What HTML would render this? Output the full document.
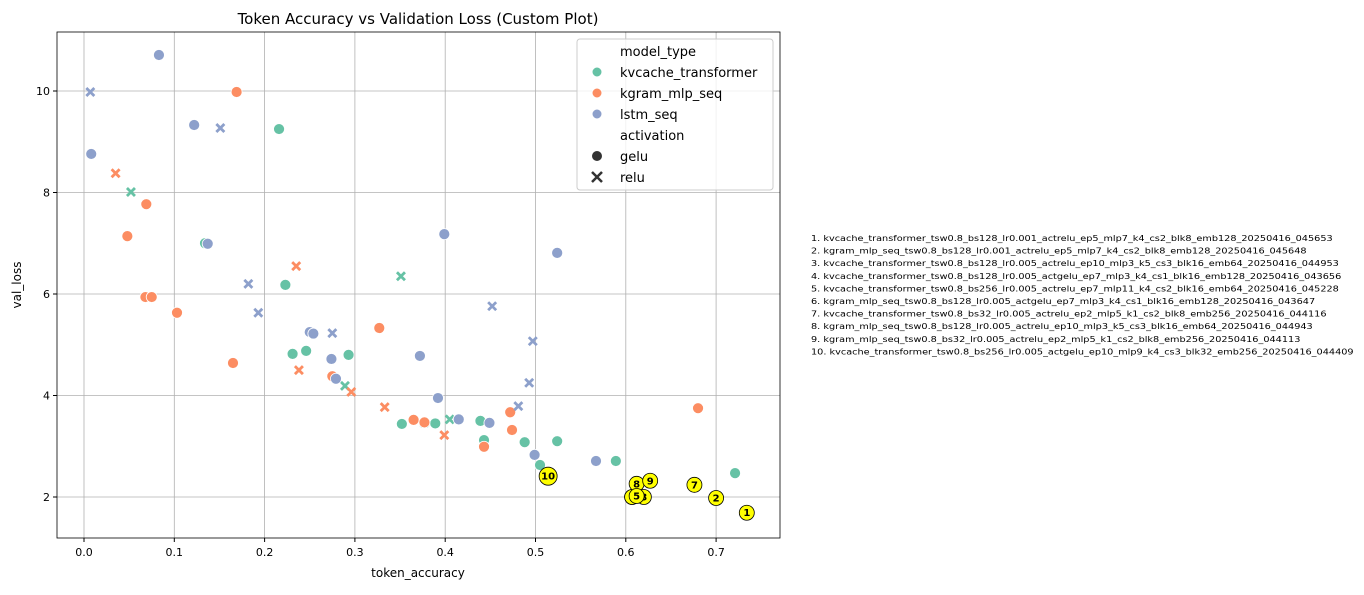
<!DOCTYPE html>
<html><head><meta charset="utf-8"><style>
body{margin:0;background:#fff;font-family:"Liberation Sans","DejaVu Sans",sans-serif}
svg text{font-family:"DejaVu Sans","Liberation Sans",sans-serif}
</style></head><body>
<svg id="chart" width="1364" height="590" xmlns="http://www.w3.org/2000/svg">
<rect width="1364" height="590" fill="#fff"/>
<text x="418" y="24" font-size="15" text-anchor="middle">Token Accuracy vs Validation Loss (Custom Plot)</text>
<g id="grid"></g><g id="marks"></g><g id="ann"></g>
<rect x="57" y="32" width="723" height="506" fill="none" stroke="#000" stroke-width="0.8"/>
<text x="418" y="577" font-size="12" text-anchor="middle">token_accuracy</text>
<text x="21" y="285" font-size="12" text-anchor="middle" transform="rotate(-90 21 285)">val_loss</text>
<g>
<rect x="577" y="39" width="196" height="151" fill="#fff" fill-opacity="0.8" stroke="#ccc" rx="3"/>
<text x="620" y="56" font-size="13">model_type</text>
<circle cx="597" cy="72" r="5" fill="#66c2a5" stroke="#fff"/><text x="620" y="77" font-size="13">kvcache_transformer</text>
<circle cx="597" cy="93" r="5" fill="#fc8d62" stroke="#fff"/><text x="620" y="98" font-size="13">kgram_mlp_seq</text>
<circle cx="597" cy="114" r="5" fill="#8da0cb" stroke="#fff"/><text x="620" y="119" font-size="13">lstm_seq</text>
<text x="620" y="140" font-size="13">activation</text>
<circle cx="597" cy="156" r="5" fill="#333"/><text x="620" y="161" font-size="13">gelu</text>
<path d="M592,172 L602,182 M602,172 L592,182" stroke="#333" stroke-width="2.5"/><text x="620" y="182" font-size="13">relu</text>
</g>
<g id="list"></g>
</svg>
<script>
const xTicks=[0,0.1,0.2,0.3,0.4,0.5,0.6,0.7];
const xTickLabels=["0.0","0.1","0.2","0.3","0.4","0.5","0.6","0.7"];
const yTicks=[2,4,6,8,10];
const yTickLabels=["2","4","6","8","10"];
const models=["kvcache_transformer","kgram_mlp_seq","lstm_seq"];
const ptModel=[0,0,0,0,0,0,0,0,0,0,0,0,0,0,0, 0,0,0,0,0,
 1,1,1,1,1,1,1,1,1,1,1,1,1,1,1, 1,1,1,1,1,1,
 2,2,2,2,2,2,2,2,2,2,2,2,2,2,2,2, 2,2,2,2,2,2,2,2,2];
const ptAct=[0,0,0,0,0,0,0,0,0,0,0,0,0,0,0, 1,1,1,1,1,
 0,0,0,0,0,0,0,0,0,0,0,0,0,0,0, 1,1,1,1,1,1,
 0,0,0,0,0,0,0,0,0,0,0,0,0,0,0,0, 1,1,1,1,1,1,1,1,1];
const ptX=[0.216,0.134,0.223,0.231,0.246,0.293,0.352,0.389,0.439,0.443,0.488,0.524,0.505,0.589,0.721, 0.052,0.377,0.405,0.289,0.351,
 0.169,0.069,0.048,0.068,0.075,0.103,0.165,0.327,0.275,0.365,0.443,0.472,0.474,0.680,0.377, 0.035,0.235,0.238,0.296,0.333,0.399,
 0.083,0.008,0.122,0.137,0.399,0.524,0.250,0.254,0.274,0.279,0.372,0.392,0.415,0.449,0.499,0.567, 0.007,0.151,0.182,0.193,0.275,0.452,0.497,0.493,0.481];
const ptY=[9.25,7.00,6.18,4.82,4.88,4.80,3.44,3.45,3.50,3.12,3.08,3.10,2.63,2.71,2.47, 8.01,3.46,3.53,4.19,6.35,
 9.98,7.77,7.14,5.94,5.94,5.63,4.64,5.33,4.38,3.52,2.99,3.67,3.32,3.75,3.47, 8.38,6.55,4.50,4.07,3.77,3.22,
 10.71,8.76,9.33,6.99,7.18,6.81,5.25,5.22,4.72,4.33,4.78,3.95,3.53,3.46,2.83,2.71, 9.98,9.27,6.20,5.63,5.23,5.76,5.07,4.25,3.79];
const topX=[0.734,0.700,0.620,0.607,0.612,0.607,0.676,0.612,0.627,0.514];
const topY=[1.69,1.98,2.00,2.00,2.02,2.00,2.24,2.26,2.32,2.41];
const topNames=["kvcache_transformer_tsw0.8_bs128_lr0.001_actrelu_ep5_mlp7_k4_cs2_blk8_emb128_20250416_045653","kgram_mlp_seq_tsw0.8_bs128_lr0.001_actrelu_ep5_mlp7_k4_cs2_blk8_emb128_20250416_045648","kvcache_transformer_tsw0.8_bs128_lr0.005_actrelu_ep10_mlp3_k5_cs3_blk16_emb64_20250416_044953","kvcache_transformer_tsw0.8_bs128_lr0.005_actgelu_ep7_mlp3_k4_cs1_blk16_emb128_20250416_043656","kvcache_transformer_tsw0.8_bs256_lr0.005_actrelu_ep7_mlp11_k4_cs2_blk16_emb64_20250416_045228","kgram_mlp_seq_tsw0.8_bs128_lr0.005_actgelu_ep7_mlp3_k4_cs1_blk16_emb128_20250416_043647","kvcache_transformer_tsw0.8_bs32_lr0.005_actrelu_ep2_mlp5_k1_cs2_blk8_emb256_20250416_044116","kgram_mlp_seq_tsw0.8_bs128_lr0.005_actrelu_ep10_mlp3_k5_cs3_blk16_emb64_20250416_044943","kgram_mlp_seq_tsw0.8_bs32_lr0.005_actrelu_ep2_mlp5_k1_cs2_blk8_emb256_20250416_044113","kvcache_transformer_tsw0.8_bs256_lr0.005_actgelu_ep10_mlp9_k4_cs3_blk32_emb256_20250416_044409"];
const colors=["#66c2a5","#fc8d62","#8da0cb"];
const NS="http://www.w3.org/2000/svg";
const sx=v=>84+v*903, sy=v=>91+(10-v)*50.75;
function mk(t,a,p){const e=document.createElementNS(NS,t);for(const k in a)e.setAttribute(k,a[k]);p.appendChild(e);return e;}
const grid=document.getElementById('grid'),marks=document.getElementById('marks'),ann=document.getElementById('ann'),list=document.getElementById('list');
xTicks.forEach((t,i)=>{const x=sx(t);
 const l=mk('line',{x1:x,x2:x,y1:32,y2:538,stroke:'#b0b0b0','stroke-width':0.8},grid);
 
 
 mk('line',{x1:x,x2:x,y1:538,y2:542,stroke:'#000'},grid);
 const tx=mk('text',{x:x,y:556,'font-size':11,'text-anchor':'middle'},grid);tx.textContent=xTickLabels[i];
 
 });
yTicks.forEach((t,i)=>{const y=sy(t);
 const l=mk('line',{x1:57,x2:780,y1:y,y2:y,stroke:'#b0b0b0','stroke-width':0.8},grid);
 
 
 mk('line',{x1:53,x2:57,y1:y,y2:y,stroke:'#000'},grid);
 const tx=mk('text',{x:50,y:y+4,'font-size':11,'text-anchor':'end'},grid);tx.textContent=yTickLabels[i];
 
 });
ptX.forEach((v,i)=>{const x=sx(v),y=sy(ptY[i]),c=colors[ptModel[i]];let e;
 if(ptAct[i]===0){e=mk('circle',{cx:x,cy:y,r:5.5,fill:c,stroke:'#fff','stroke-width':0.8},marks);}
 else{e=mk('path',{d:`M${x-4},${y-4}L${x+4},${y+4}M${x+4},${y-4}L${x-4},${y+4}`,stroke:c,'stroke-width':2.8},marks);}
 
 });
const drawOrder=[0,1,3,5,2,6,7,8,9,4];
drawOrder.forEach(i=>{const x=sx(topX[i]),y=sy(topY[i]);
 const c=mk('circle',{cx:x,cy:y,r:i===9?9:7.5,fill:'#ffff00',stroke:'#000','stroke-width':0.8},ann);
 
 
 const t=mk('text',{x:x,y:y+3.5,'font-size':10,'font-weight':'bold','text-anchor':'middle'},ann);t.textContent=String(i+1);
 
 });
topNames.forEach((n,i)=>{const t=mk('text',{x:811,y:241+i*12.6,'font-size':8.3},list);t.textContent=(i+1)+'. '+n;
 
 });
Array.from(list.children).forEach(t=>{const w=t.getComputedTextLength();t.setAttribute('textLength',w*1.17);t.setAttribute('lengthAdjust','spacingAndGlyphs');});
</script>
</body></html>
